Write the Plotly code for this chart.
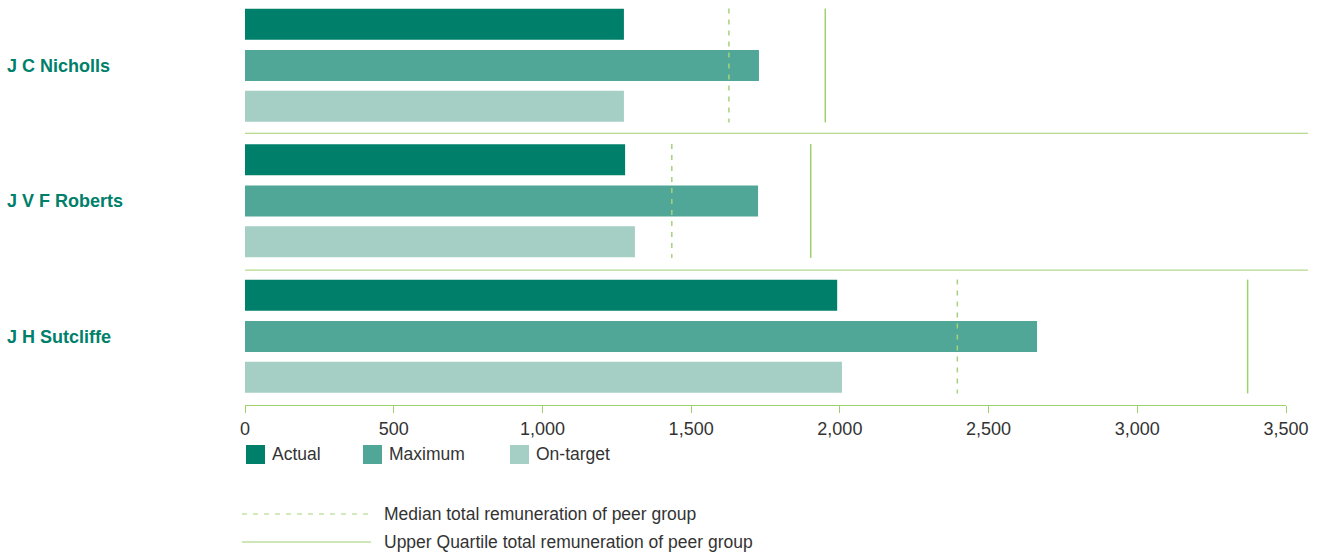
import plotly.graph_objects as go

# ---- data ----
names = ["J C Nicholls", "J V F Roberts", "J H Sutcliffe"]
actual = [1274, 1278, 1991]
maximum = [1728, 1725, 2663]
on_target = [1274, 1311, 2007]
median_peer = [1627, 1435, 2395]
upper_quartile_peer = [1951, 1902, 3371]
tick_values = [0, 500, 1000, 1500, 2000, 2500, 3000, 3500]
series_names = ["Actual", "Maximum", "On-target"]
line_names = ["Median total remuneration of peer group",
              "Upper Quartile total remuneration of peer group"]

# ---- styles ----
C_ACT = "#00806a"
C_MAX = "#50a797"
C_ON = "#a5cec4"
C_GREEN = "#9fd06e"
C_GREEN_D = "#a6d27c"
TXT = "#333333"
FONT = "Liberation Sans"

W, H = 1337, 553
L, R = 245, 51
T, B = 0, 148
plot_w = W - L - R
plot_h = H - T - B

groups = list(range(len(names)))
offsets = [-0.305, 0.0, 0.30]
bar_w = 0.229

fig = go.Figure()
for vals, off, col, nm in zip([actual, maximum, on_target], offsets,
                              [C_ACT, C_MAX, C_ON], series_names):
    fig.add_trace(go.Bar(
        x=vals, y=[g + off for g in groups], orientation="h",
        width=bar_w, marker=dict(color=col, line=dict(width=0)),
        name=nm, showlegend=False, hoverinfo="x+name"))

half = 0.42
for vals, dash, col, nm in [(median_peer, "5px,6px", C_GREEN_D, line_names[0]),
                            (upper_quartile_peer, "solid", C_GREEN, line_names[1])]:
    xs, ys = [], []
    for g, v in zip(groups, vals):
        xs += [v, v, None]
        ys += [g - half, g + half, None]
    fig.add_trace(go.Scatter(x=xs, y=ys, mode="lines",
                             line=dict(color=col, width=1.5, dash=dash),
                             name=nm, showlegend=False, hoverinfo="x+name"))


def px_x(px):
    return (px - L) / plot_w


def px_y(py):
    return (plot_h - (py - T)) / plot_h


shapes = []
annotations = []

# separators between groups
for s in [0.5, 1.51]:
    shapes.append(dict(type="line", xref="paper", yref="y",
                       x0=0, x1=px_x(1308), y0=s, y1=s,
                       line=dict(color=C_GREEN, width=1)))

# group labels
for g, nm in zip(groups, names):
    annotations.append(dict(xref="paper", yref="y", x=px_x(5), y=g,
                            xanchor="left", yanchor="middle", showarrow=False,
                            text="<b>" + nm + "</b>",
                            font=dict(family=FONT, size=18, color=C_ACT)))

# bar legend (drawn manually)
leg_sq = [246, 363, 510]
for x0, col, nm in zip(leg_sq, [C_ACT, C_MAX, C_ON], series_names):
    shapes.append(dict(type="rect", xref="paper", yref="paper",
                       x0=px_x(x0), x1=px_x(x0 + 19), y0=px_y(464), y1=px_y(445),
                       fillcolor=col, line=dict(width=0)))
    annotations.append(dict(xref="paper", yref="paper", x=px_x(x0 + 24), y=px_y(454),
                            xanchor="left", yanchor="middle", showarrow=False,
                            text=nm, font=dict(family=FONT, size=17.5, color=TXT)))

# line legend
for py, dash, col, nm in [(514, "5px,6px", C_GREEN_D, line_names[0]),
                          (542, "solid", C_GREEN, line_names[1])]:
    shapes.append(dict(type="line", xref="paper", yref="paper",
                       x0=px_x(242), x1=px_x(371), y0=px_y(py), y1=px_y(py),
                       line=dict(color=col, width=1.2, dash=dash)))
    annotations.append(dict(xref="paper", yref="paper", x=px_x(382), y=px_y(py),
                            xanchor="left", yanchor="middle", showarrow=False,
                            text=nm, font=dict(family=FONT, size=17.5, color=TXT)))

unit = 135.5
y_top = -65.5 / unit
y_bot = y_top + plot_h / unit

fig.update_layout(
    width=W, height=H,
    margin=dict(l=L, r=R, t=T, b=B),
    paper_bgcolor="white", plot_bgcolor="white",
    barmode="overlay",
    showlegend=False,
    shapes=shapes, annotations=annotations,
    font=dict(family=FONT, color=TXT),
    xaxis=dict(range=[0, 3500], tickvals=tick_values, tickformat=",",
               showgrid=False, zeroline=False, showline=True,
               linecolor=C_GREEN, linewidth=1,
               ticks="outside", ticklen=7, tickcolor=C_GREEN, tickwidth=1,
               tickfont=dict(family=FONT, size=18, color=TXT), fixedrange=True),
    yaxis=dict(range=[y_bot, y_top], visible=False, showgrid=False,
               zeroline=False, fixedrange=True),
)

fig.write_html("out.html")
